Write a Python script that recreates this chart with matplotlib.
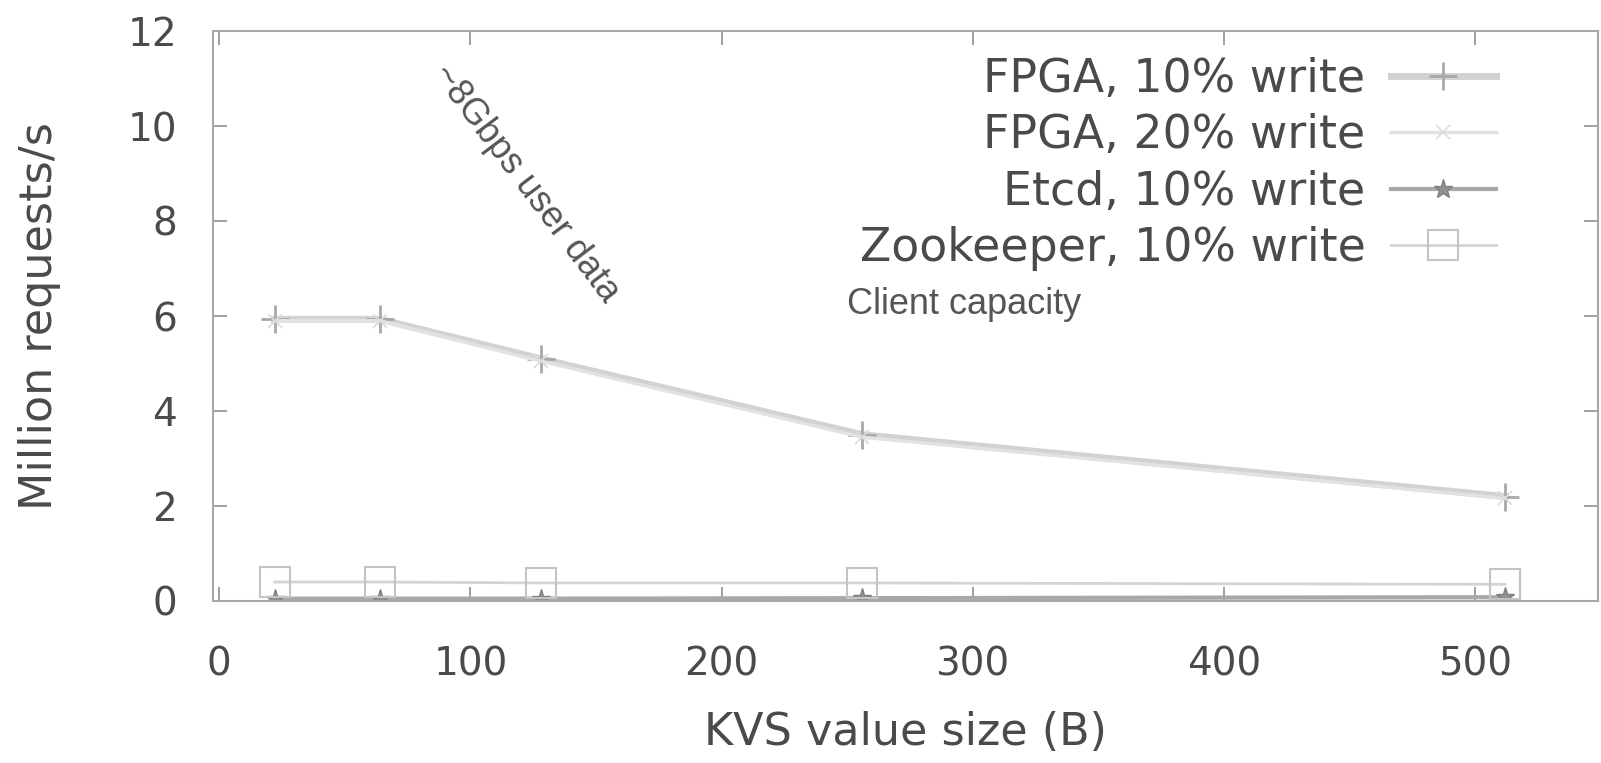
import matplotlib.pyplot as plt

# KVS value size (B) on the x axis
sizes = [22, 64, 128, 256, 512]

# Million requests/s for each system
fpga_10 = [5.93, 5.93, 5.10, 3.50, 2.20]
fpga_20 = [5.90, 5.90, 5.05, 3.45, 2.16]
etcd_10 = [0.05, 0.05, 0.05, 0.06, 0.08]
zk_10 = [0.40, 0.40, 0.38, 0.38, 0.35]

labels = ["FPGA, 10% write", "FPGA, 20% write",
          "Etcd, 10% write", "Zookeeper, 10% write"]

xticks = [0, 100, 200, 300, 400, 500]
yticks = [0, 2, 4, 6, 8, 10, 12]

txt = "#4a4a4a"
fig = plt.figure(figsize=(16.01, 7.63), dpi=100)
ax = fig.add_axes([213 / 1601, 1 - 601 / 763, 1385 / 1601, 570 / 763])

ax.plot(sizes, fpga_10, color="#d2d2d2", lw=5, marker="+", ms=20, mew=2,
        mec="#a8a8a8", label=labels[0])
ax.plot(sizes, fpga_20, color="#e2e2e2", lw=2.5, marker="x", ms=10, mew=1.2,
        mec="#dcdcdc", label=labels[1])
ax.plot(sizes, etcd_10, color="#a8a8a8", lw=3, marker="*", ms=14,
        mec="#808080", mfc="#909090", label=labels[2])
ax.plot(sizes, zk_10, color="#d4d4d4", lw=2, marker="s", ms=21, mew=1.5,
        mfc="none", mec="#c4c4c4", label=labels[3])

ax.set_xlim(-2.5, 549)
ax.set_ylim(0, 12)
ax.set_xticks(xticks)
ax.set_yticks(yticks)
ax.tick_params(axis="both", direction="in", top=True, right=True,
               length=10, width=1.2, color="#909090", labelsize=28,
               labelcolor=txt)
ax.tick_params(axis="x", pad=32)
ax.tick_params(axis="y", pad=26)
for s in ax.spines.values():
    s.set_color("#a8a8a8")
    s.set_linewidth(1.5)

ax.set_xlabel("KVS value size (B)", fontsize=32, color=txt, labelpad=20)
ax.set_ylabel("Million requests/s", fontsize=32, color=txt, labelpad=48)

leg = fig.legend(loc="upper right", bbox_to_anchor=(1496 / 1601, 1 - 57 / 763),
                 markerfirst=False, frameon=False, fontsize=33,
                 handlelength=2.3, handletextpad=0.55, labelspacing=0.25,
                 borderpad=0, borderaxespad=0)
for t in leg.get_texts():
    t.set_color(txt)

ax.text(122, 8.8, "~8Gbps user data", fontsize=26, family="Liberation Sans",
        color="#555555", rotation=-53, ha="center", va="center",
        rotation_mode="anchor")
ax.text(250, 6.25, "Client capacity", fontsize=26, family="Liberation Sans",
        color="#555555", ha="left", va="center")

plt.savefig("out.png", dpi=100)
